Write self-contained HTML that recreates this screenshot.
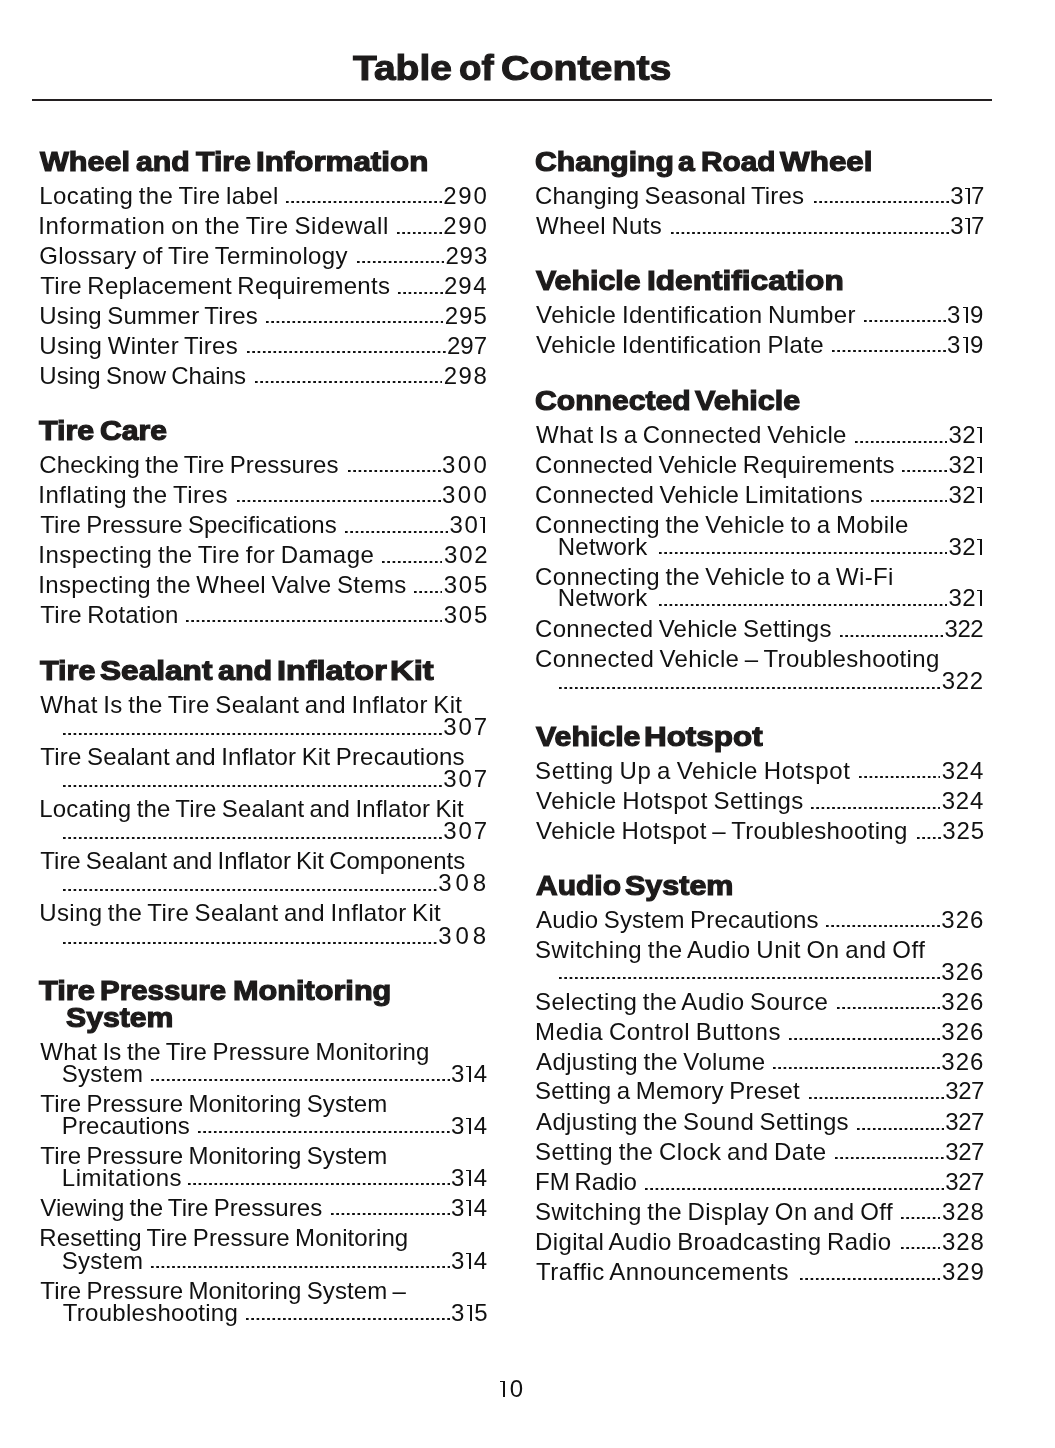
<!DOCTYPE html>
<html><head><meta charset="utf-8"><style>
html,body{margin:0;padding:0;background:#fff}
body{width:1055px;height:1448px;position:relative;overflow:hidden;will-change:transform;color:#111111;font-family:"Liberation Sans",sans-serif}
.t{position:absolute;font-size:24px;line-height:30px;white-space:pre}
.h{position:absolute;font-size:28px;line-height:34px;font-weight:bold;white-space:pre;transform-origin:0 0;color:#1d1b1b;-webkit-text-stroke:1.2px #1d1b1b}
.ti{position:absolute;font-size:35px;line-height:42px;font-weight:bold;white-space:pre;transform-origin:0 0;color:#1d1b1b;-webkit-text-stroke:1.1px #1d1b1b}
.d{position:absolute;height:2.4px;background-image:linear-gradient(to right,#111111 2.3px,transparent 2.3px);background-size:5.3px 2.4px;background-repeat:repeat-x}
.one{position:absolute;width:5.0px;height:16.5px}
.one:before{content:"";position:absolute;right:0;top:0;width:2.0px;height:100%;background:#111111}
.one:after{content:"";position:absolute;left:0;top:0;width:100%;height:1.8px;background:#111111}
.dg{transform:scaleX(1.0);transform-origin:0 0}
.rule{position:absolute;left:31.5px;top:98.9px;width:960.5px;height:1.7px;background:#231f20}
</style></head><body>
<div class="ti" style="left:352.89px;top:46.90px;transform:scaleX(1.1140)">Table</div>
<div class="ti" style="left:458.88px;top:46.90px;transform:scaleX(1.0476)">of</div>
<div class="ti" style="left:500.96px;top:46.90px;transform:scaleX(1.1234)">Contents</div>
<div class="rule"></div>
<div class="h" style="left:40.40px;top:145.10px;transform:scaleX(1.0919)">Wheel</div>
<div class="h" style="left:135.89px;top:145.10px;transform:scaleX(1.0794)">and</div>
<div class="h" style="left:195.73px;top:145.10px;transform:scaleX(1.0808)">Tire</div>
<div class="h" style="left:256.36px;top:145.10px;transform:scaleX(1.1188)">Information</div>
<div class="t" style="left:39.30px;top:180.85px;letter-spacing:0.399px;word-spacing:-1.5px">Locating the Tire label</div>
<div class="t dg" style="left:443.29px;top:180.85px">2</div>
<div class="t dg" style="left:458.21px;top:180.85px">9</div>
<div class="t dg" style="left:473.39px;top:180.85px">0</div>
<div class="d" style="left:286.10px;top:201.40px;width:156.00px"></div>
<div class="t" style="left:38.30px;top:210.95px;letter-spacing:0.639px;word-spacing:-1.5px">Information on the Tire Sidewall</div>
<div class="t dg" style="left:443.29px;top:210.95px">2</div>
<div class="t dg" style="left:458.21px;top:210.95px">9</div>
<div class="t dg" style="left:473.39px;top:210.95px">0</div>
<div class="d" style="left:397.40px;top:231.50px;width:44.70px"></div>
<div class="t" style="left:39.30px;top:240.55px;letter-spacing:0.332px;word-spacing:-1.5px">Glossary of Tire Terminology</div>
<div class="t dg" style="left:445.49px;top:240.55px">2</div>
<div class="t dg" style="left:459.56px;top:240.55px">9</div>
<div class="t dg" style="left:473.91px;top:240.55px">3</div>
<div class="d" style="left:357.20px;top:261.10px;width:87.10px"></div>
<div class="t" style="left:40.30px;top:271.05px;letter-spacing:0.286px;word-spacing:-1.5px">Tire Replacement Requirements</div>
<div class="t dg" style="left:443.99px;top:271.05px">2</div>
<div class="t dg" style="left:458.25px;top:271.05px">9</div>
<div class="t dg" style="left:473.16px;top:271.05px">4</div>
<div class="d" style="left:398.10px;top:291.60px;width:44.70px"></div>
<div class="t" style="left:39.30px;top:300.75px;letter-spacing:0.240px;word-spacing:-1.5px">Using Summer Tires</div>
<div class="t dg" style="left:444.69px;top:300.75px">2</div>
<div class="t dg" style="left:458.96px;top:300.75px">9</div>
<div class="t dg" style="left:473.46px;top:300.75px">5</div>
<div class="d" style="left:266.30px;top:321.30px;width:177.20px"></div>
<div class="t" style="left:39.30px;top:330.75px;letter-spacing:0.319px;word-spacing:-1.5px">Using Winter Tires</div>
<div class="t dg" style="left:446.89px;top:330.75px">2</div>
<div class="t dg" style="left:460.29px;top:330.75px">9</div>
<div class="t dg" style="left:473.66px;top:330.75px">7</div>
<div class="d" style="left:247.30px;top:351.30px;width:198.40px"></div>
<div class="t" style="left:39.30px;top:360.85px;letter-spacing:0.016px;word-spacing:-1.5px">Using Snow Chains</div>
<div class="t dg" style="left:443.69px;top:360.85px">2</div>
<div class="t dg" style="left:458.52px;top:360.85px">9</div>
<div class="t dg" style="left:473.50px;top:360.85px">8</div>
<div class="d" style="left:254.70px;top:381.40px;width:187.80px"></div>
<div class="h" style="left:39.13px;top:414.10px;transform:scaleX(1.0869)">Tire</div>
<div class="h" style="left:99.75px;top:414.10px;transform:scaleX(1.0783)">Care</div>
<div class="t" style="left:39.30px;top:449.55px;letter-spacing:0.085px;word-spacing:-1.5px">Checking the Tire Pressures</div>
<div class="t dg" style="left:442.09px;top:449.55px">3</div>
<div class="t dg" style="left:457.73px;top:449.55px">0</div>
<div class="t dg" style="left:473.49px;top:449.55px">0</div>
<div class="d" style="left:348.20px;top:470.10px;width:92.40px"></div>
<div class="t" style="left:38.30px;top:479.85px;letter-spacing:0.522px;word-spacing:-1.5px">Inflating the Tires</div>
<div class="t dg" style="left:442.09px;top:479.85px">3</div>
<div class="t dg" style="left:457.73px;top:479.85px">0</div>
<div class="t dg" style="left:473.49px;top:479.85px">0</div>
<div class="d" style="left:236.90px;top:500.40px;width:203.70px"></div>
<div class="t" style="left:40.30px;top:509.95px;letter-spacing:0.056px;word-spacing:-1.5px">Tire Pressure Specifications</div>
<div class="t dg" style="left:449.59px;top:509.95px">3</div>
<div class="t dg" style="left:464.42px;top:509.95px">0</div>
<div class="one" style="left:480.00px;top:516.50px"></div>
<div class="d" style="left:345.10px;top:530.50px;width:103.00px"></div>
<div class="t" style="left:38.30px;top:540.15px;letter-spacing:0.460px;word-spacing:-1.5px">Inspecting the Tire for Damage</div>
<div class="t dg" style="left:443.99px;top:540.15px">3</div>
<div class="t dg" style="left:459.15px;top:540.15px">0</div>
<div class="t dg" style="left:474.16px;top:540.15px">2</div>
<div class="d" style="left:381.90px;top:560.70px;width:60.60px"></div>
<div class="t" style="left:38.30px;top:569.95px;letter-spacing:0.328px;word-spacing:-1.5px">Inspecting the Wheel Valve Stems</div>
<div class="t dg" style="left:443.79px;top:569.95px">3</div>
<div class="t dg" style="left:458.83px;top:569.95px">0</div>
<div class="t dg" style="left:473.96px;top:569.95px">5</div>
<div class="d" style="left:413.50px;top:590.50px;width:28.80px"></div>
<div class="t" style="left:40.30px;top:599.75px;letter-spacing:0.262px;word-spacing:-1.5px">Tire Rotation</div>
<div class="t dg" style="left:443.79px;top:599.75px">3</div>
<div class="t dg" style="left:458.83px;top:599.75px">0</div>
<div class="t dg" style="left:473.96px;top:599.75px">5</div>
<div class="d" style="left:185.60px;top:620.30px;width:256.70px"></div>
<div class="h" style="left:39.73px;top:654.10px;transform:scaleX(1.0889)">Tire</div>
<div class="h" style="left:99.85px;top:654.10px;transform:scaleX(1.1289)">Sealant</div>
<div class="h" style="left:218.18px;top:654.10px;transform:scaleX(1.0878)">and</div>
<div class="h" style="left:277.09px;top:654.10px;transform:scaleX(1.1568)">Inflator</div>
<div class="h" style="left:390.46px;top:654.10px;transform:scaleX(1.1686)">Kit</div>
<div class="t" style="left:40.30px;top:690.05px;letter-spacing:0.367px;word-spacing:-1.5px">What Is the Tire Sealant and Inflator Kit</div>
<div class="t dg" style="left:443.19px;top:712.15px">3</div>
<div class="t dg" style="left:458.61px;top:712.15px">0</div>
<div class="t dg" style="left:473.86px;top:712.15px">7</div>
<div class="d" style="left:63.10px;top:732.70px;width:378.60px;background-size:5.3000px 2.4px"></div>
<div class="t" style="left:40.30px;top:741.85px;letter-spacing:0.209px;word-spacing:-1.5px">Tire Sealant and Inflator Kit Precautions</div>
<div class="t dg" style="left:443.19px;top:763.95px">3</div>
<div class="t dg" style="left:458.61px;top:763.95px">0</div>
<div class="t dg" style="left:473.86px;top:763.95px">7</div>
<div class="d" style="left:63.10px;top:784.50px;width:378.60px;background-size:5.3000px 2.4px"></div>
<div class="t" style="left:39.30px;top:793.95px;letter-spacing:0.158px;word-spacing:-1.5px">Locating the Tire Sealant and Inflator Kit</div>
<div class="t dg" style="left:443.19px;top:816.15px">3</div>
<div class="t dg" style="left:458.61px;top:816.15px">0</div>
<div class="t dg" style="left:473.86px;top:816.15px">7</div>
<div class="d" style="left:63.10px;top:836.70px;width:378.60px;background-size:5.3000px 2.4px"></div>
<div class="t" style="left:40.30px;top:845.85px;letter-spacing:-0.007px;word-spacing:-1.5px">Tire Sealant and Inflator Kit Components</div>
<div class="t dg" style="left:438.19px;top:868.05px">3</div>
<div class="t dg" style="left:455.43px;top:868.05px">0</div>
<div class="t dg" style="left:472.70px;top:868.05px">8</div>
<div class="d" style="left:63.10px;top:888.60px;width:373.60px;background-size:5.3043px 2.4px"></div>
<div class="t" style="left:39.30px;top:897.65px;letter-spacing:0.339px;word-spacing:-1.5px">Using the Tire Sealant and Inflator Kit</div>
<div class="t dg" style="left:438.19px;top:920.95px">3</div>
<div class="t dg" style="left:455.43px;top:920.95px">0</div>
<div class="t dg" style="left:472.70px;top:920.95px">8</div>
<div class="d" style="left:63.10px;top:941.50px;width:373.60px;background-size:5.3043px 2.4px"></div>
<div class="h" style="left:39.32px;top:974.10px;transform:scaleX(1.1010)">Tire</div>
<div class="h" style="left:100.19px;top:974.10px;transform:scaleX(1.0530)">Pressure</div>
<div class="h" style="left:233.31px;top:974.10px;transform:scaleX(1.0948)">Monitoring</div>
<div class="h" style="left:66.49px;top:1000.90px;transform:scaleX(1.0784)">System</div>
<div class="t" style="left:40.30px;top:1036.75px;letter-spacing:0.201px;word-spacing:-1.5px">What Is the Tire Pressure Monitoring</div>
<div class="t" style="left:61.80px;top:1058.85px;letter-spacing:0.255px;word-spacing:-1.5px">System</div>
<div class="t dg" style="left:451.09px;top:1058.85px">3</div>
<div class="one" style="left:466.00px;top:1065.50px"></div>
<div class="t dg" style="left:473.86px;top:1058.85px">4</div>
<div class="d" style="left:150.50px;top:1079.40px;width:299.10px"></div>
<div class="t" style="left:40.30px;top:1088.55px;letter-spacing:0.095px;word-spacing:-1.5px">Tire Pressure Monitoring System</div>
<div class="t" style="left:61.80px;top:1110.65px;letter-spacing:0.116px;word-spacing:-1.5px">Precautions</div>
<div class="t dg" style="left:451.09px;top:1110.65px">3</div>
<div class="one" style="left:466.00px;top:1117.50px"></div>
<div class="t dg" style="left:473.86px;top:1110.65px">4</div>
<div class="d" style="left:198.20px;top:1131.20px;width:251.40px"></div>
<div class="t" style="left:40.30px;top:1140.75px;letter-spacing:0.095px;word-spacing:-1.5px">Tire Pressure Monitoring System</div>
<div class="t" style="left:61.80px;top:1162.65px;letter-spacing:0.509px;word-spacing:-1.5px">Limitations</div>
<div class="t dg" style="left:451.09px;top:1162.65px">3</div>
<div class="one" style="left:466.00px;top:1169.50px"></div>
<div class="t dg" style="left:473.86px;top:1162.65px">4</div>
<div class="d" style="left:187.60px;top:1183.20px;width:262.00px"></div>
<div class="t" style="left:40.30px;top:1192.75px;letter-spacing:0.054px;word-spacing:-1.5px">Viewing the Tire Pressures</div>
<div class="t dg" style="left:451.09px;top:1192.75px">3</div>
<div class="one" style="left:466.00px;top:1199.50px"></div>
<div class="t dg" style="left:473.86px;top:1192.75px">4</div>
<div class="d" style="left:330.70px;top:1213.30px;width:118.90px"></div>
<div class="t" style="left:39.30px;top:1222.75px;letter-spacing:0.119px;word-spacing:-1.5px">Resetting Tire Pressure Monitoring</div>
<div class="t" style="left:61.80px;top:1245.85px;letter-spacing:0.255px;word-spacing:-1.5px">System</div>
<div class="t dg" style="left:451.09px;top:1245.85px">3</div>
<div class="one" style="left:466.00px;top:1252.50px"></div>
<div class="t dg" style="left:473.86px;top:1245.85px">4</div>
<div class="d" style="left:150.50px;top:1266.40px;width:299.10px"></div>
<div class="t" style="left:40.30px;top:1275.85px;letter-spacing:0.096px;word-spacing:-1.5px">Tire Pressure Monitoring System –</div>
<div class="t" style="left:62.80px;top:1297.85px;letter-spacing:0.273px;word-spacing:-1.5px">Troubleshooting</div>
<div class="t dg" style="left:451.09px;top:1297.85px">3</div>
<div class="one" style="left:467.00px;top:1304.50px"></div>
<div class="t dg" style="left:474.16px;top:1297.85px">5</div>
<div class="d" style="left:245.90px;top:1318.40px;width:203.70px"></div>
<div class="h" style="left:535.26px;top:145.20px;transform:scaleX(1.0754)">Changing</div>
<div class="h" style="left:678.40px;top:145.20px;transform:scaleX(1.0733)">a</div>
<div class="h" style="left:700.97px;top:145.20px;transform:scaleX(1.0636)">Road</div>
<div class="h" style="left:780.10px;top:145.20px;transform:scaleX(1.1230)">Wheel</div>
<div class="t" style="left:535.10px;top:180.85px;letter-spacing:0.172px;word-spacing:-1.5px">Changing Seasonal Tires</div>
<div class="t dg" style="left:950.19px;top:180.85px">3</div>
<div class="one" style="left:965.00px;top:187.50px"></div>
<div class="t dg" style="left:971.06px;top:180.85px">7</div>
<div class="d" style="left:813.90px;top:201.40px;width:134.80px"></div>
<div class="t" style="left:536.10px;top:210.95px;letter-spacing:0.351px;word-spacing:-1.5px">Wheel Nuts</div>
<div class="t dg" style="left:950.19px;top:210.95px">3</div>
<div class="one" style="left:965.00px;top:217.50px"></div>
<div class="t dg" style="left:971.06px;top:210.95px">7</div>
<div class="d" style="left:670.80px;top:231.50px;width:277.90px"></div>
<div class="h" style="left:535.93px;top:263.70px;transform:scaleX(1.0835)">Vehicle</div>
<div class="h" style="left:646.64px;top:263.70px;transform:scaleX(1.1290)">Identification</div>
<div class="t" style="left:536.10px;top:299.85px;letter-spacing:0.413px;word-spacing:-1.5px">Vehicle Identification Number</div>
<div class="t dg" style="left:947.09px;top:299.85px">3</div>
<div class="one" style="left:963.00px;top:306.50px"></div>
<div class="t dg" style="left:969.99px;top:299.85px">9</div>
<div class="d" style="left:863.80px;top:320.40px;width:81.80px"></div>
<div class="t" style="left:536.10px;top:329.85px;letter-spacing:0.384px;word-spacing:-1.5px">Vehicle Identification Plate</div>
<div class="t dg" style="left:947.09px;top:329.85px">3</div>
<div class="one" style="left:963.00px;top:336.50px"></div>
<div class="t dg" style="left:969.99px;top:329.85px">9</div>
<div class="d" style="left:832.00px;top:350.40px;width:113.60px"></div>
<div class="h" style="left:535.06px;top:383.90px;transform:scaleX(1.0756)">Connected</div>
<div class="h" style="left:695.43px;top:383.90px;transform:scaleX(1.0908)">Vehicle</div>
<div class="t" style="left:536.10px;top:419.95px;letter-spacing:0.314px;word-spacing:-1.5px">What Is a Connected Vehicle</div>
<div class="t dg" style="left:948.49px;top:419.95px">3</div>
<div class="t dg" style="left:962.17px;top:419.95px">2</div>
<div class="one" style="left:977.00px;top:426.50px"></div>
<div class="d" style="left:854.60px;top:440.50px;width:92.40px"></div>
<div class="t" style="left:535.10px;top:449.85px;letter-spacing:0.217px;word-spacing:-1.5px">Connected Vehicle Requirements</div>
<div class="t dg" style="left:948.49px;top:449.85px">3</div>
<div class="t dg" style="left:962.17px;top:449.85px">2</div>
<div class="one" style="left:977.00px;top:456.50px"></div>
<div class="d" style="left:902.30px;top:470.40px;width:44.70px"></div>
<div class="t" style="left:535.10px;top:479.85px;letter-spacing:0.324px;word-spacing:-1.5px">Connected Vehicle Limitations</div>
<div class="t dg" style="left:948.49px;top:479.85px">3</div>
<div class="t dg" style="left:962.17px;top:479.85px">2</div>
<div class="one" style="left:977.00px;top:486.50px"></div>
<div class="d" style="left:870.50px;top:500.40px;width:76.50px"></div>
<div class="t" style="left:535.10px;top:509.85px;letter-spacing:0.339px;word-spacing:-1.5px">Connecting the Vehicle to a Mobile</div>
<div class="t" style="left:557.80px;top:531.65px;letter-spacing:0.230px;word-spacing:-1.5px">Network</div>
<div class="t dg" style="left:948.49px;top:531.65px">3</div>
<div class="t dg" style="left:962.17px;top:531.65px">2</div>
<div class="one" style="left:977.00px;top:538.50px"></div>
<div class="d" style="left:658.50px;top:552.20px;width:288.50px"></div>
<div class="t" style="left:535.10px;top:561.65px;letter-spacing:0.343px;word-spacing:-1.5px">Connecting the Vehicle to a Wi-Fi</div>
<div class="t" style="left:557.80px;top:583.25px;letter-spacing:0.230px;word-spacing:-1.5px">Network</div>
<div class="t dg" style="left:948.49px;top:583.25px">3</div>
<div class="t dg" style="left:962.17px;top:583.25px">2</div>
<div class="one" style="left:977.00px;top:589.50px"></div>
<div class="d" style="left:658.50px;top:603.80px;width:288.50px"></div>
<div class="t" style="left:535.10px;top:614.05px;letter-spacing:0.231px;word-spacing:-1.5px">Connected Vehicle Settings</div>
<div class="t dg" style="left:944.59px;top:614.05px">3</div>
<div class="t dg" style="left:957.50px;top:614.05px">2</div>
<div class="t dg" style="left:970.26px;top:614.05px">2</div>
<div class="d" style="left:840.10px;top:634.60px;width:103.00px"></div>
<div class="t" style="left:535.10px;top:643.85px;letter-spacing:0.326px;word-spacing:-1.5px">Connected Vehicle – Troubleshooting</div>
<div class="t dg" style="left:941.69px;top:666.15px">3</div>
<div class="t dg" style="left:955.80px;top:666.15px">2</div>
<div class="t dg" style="left:969.76px;top:666.15px">2</div>
<div class="d" style="left:559.10px;top:686.70px;width:381.10px;background-size:5.3352px 2.4px"></div>
<div class="h" style="left:536.23px;top:719.90px;transform:scaleX(1.0824)">Vehicle</div>
<div class="h" style="left:644.46px;top:719.90px;transform:scaleX(1.1217)">Hotspot</div>
<div class="t" style="left:535.10px;top:755.55px;letter-spacing:0.565px;word-spacing:-1.5px">Setting Up a Vehicle Hotspot</div>
<div class="t dg" style="left:941.79px;top:755.55px">3</div>
<div class="t dg" style="left:955.67px;top:755.55px">2</div>
<div class="t dg" style="left:970.06px;top:755.55px">4</div>
<div class="d" style="left:858.50px;top:776.10px;width:81.80px"></div>
<div class="t" style="left:536.10px;top:785.95px;letter-spacing:0.437px;word-spacing:-1.5px">Vehicle Hotspot Settings</div>
<div class="t dg" style="left:941.79px;top:785.95px">3</div>
<div class="t dg" style="left:955.67px;top:785.95px">2</div>
<div class="t dg" style="left:970.06px;top:785.95px">4</div>
<div class="d" style="left:810.80px;top:806.50px;width:129.50px"></div>
<div class="t" style="left:536.10px;top:815.95px;letter-spacing:0.362px;word-spacing:-1.5px">Vehicle Hotspot – Troubleshooting</div>
<div class="t dg" style="left:942.29px;top:815.95px">3</div>
<div class="t dg" style="left:956.43px;top:815.95px">2</div>
<div class="t dg" style="left:970.66px;top:815.95px">5</div>
<div class="d" style="left:917.30px;top:836.50px;width:23.50px"></div>
<div class="h" style="left:535.60px;top:869.30px;transform:scaleX(1.0723)">Audio</div>
<div class="h" style="left:625.28px;top:869.30px;transform:scaleX(1.0887)">System</div>
<div class="t" style="left:536.10px;top:904.85px;letter-spacing:0.175px;word-spacing:-1.5px">Audio System Precautions</div>
<div class="t dg" style="left:941.29px;top:904.85px">3</div>
<div class="t dg" style="left:955.78px;top:904.85px">2</div>
<div class="t dg" style="left:970.11px;top:904.85px">6</div>
<div class="d" style="left:826.20px;top:925.40px;width:113.60px"></div>
<div class="t" style="left:535.10px;top:934.85px;letter-spacing:0.479px;word-spacing:-1.5px">Switching the Audio Unit On and Off</div>
<div class="t dg" style="left:941.29px;top:956.85px">3</div>
<div class="t dg" style="left:955.78px;top:956.85px">2</div>
<div class="t dg" style="left:970.11px;top:956.85px">6</div>
<div class="d" style="left:559.10px;top:977.40px;width:380.70px;background-size:5.3296px 2.4px"></div>
<div class="t" style="left:535.10px;top:986.55px;letter-spacing:0.365px;word-spacing:-1.5px">Selecting the Audio Source</div>
<div class="t dg" style="left:941.29px;top:986.55px">3</div>
<div class="t dg" style="left:955.78px;top:986.55px">2</div>
<div class="t dg" style="left:970.11px;top:986.55px">6</div>
<div class="d" style="left:836.80px;top:1007.10px;width:103.00px"></div>
<div class="t" style="left:535.10px;top:1016.95px;letter-spacing:0.542px;word-spacing:-1.5px">Media Control Buttons</div>
<div class="t dg" style="left:941.29px;top:1016.95px">3</div>
<div class="t dg" style="left:955.78px;top:1016.95px">2</div>
<div class="t dg" style="left:970.11px;top:1016.95px">6</div>
<div class="d" style="left:789.10px;top:1037.50px;width:150.70px"></div>
<div class="t" style="left:536.10px;top:1046.75px;letter-spacing:0.346px;word-spacing:-1.5px">Adjusting the Volume</div>
<div class="t dg" style="left:941.29px;top:1046.75px">3</div>
<div class="t dg" style="left:955.78px;top:1046.75px">2</div>
<div class="t dg" style="left:970.11px;top:1046.75px">6</div>
<div class="d" style="left:773.20px;top:1067.30px;width:166.60px"></div>
<div class="t" style="left:535.10px;top:1076.35px;letter-spacing:0.230px;word-spacing:-1.5px">Setting a Memory Preset</div>
<div class="t dg" style="left:945.19px;top:1076.35px">3</div>
<div class="t dg" style="left:958.21px;top:1076.35px">2</div>
<div class="t dg" style="left:971.06px;top:1076.35px">7</div>
<div class="d" style="left:808.90px;top:1096.90px;width:134.80px"></div>
<div class="t" style="left:536.10px;top:1107.05px;letter-spacing:0.325px;word-spacing:-1.5px">Adjusting the Sound Settings</div>
<div class="t dg" style="left:945.19px;top:1107.05px">3</div>
<div class="t dg" style="left:958.21px;top:1107.05px">2</div>
<div class="t dg" style="left:971.06px;top:1107.05px">7</div>
<div class="d" style="left:856.60px;top:1127.60px;width:87.10px"></div>
<div class="t" style="left:535.10px;top:1136.65px;letter-spacing:0.462px;word-spacing:-1.5px">Setting the Clock and Date</div>
<div class="t dg" style="left:945.19px;top:1136.65px">3</div>
<div class="t dg" style="left:958.21px;top:1136.65px">2</div>
<div class="t dg" style="left:971.06px;top:1136.65px">7</div>
<div class="d" style="left:835.40px;top:1157.20px;width:108.30px"></div>
<div class="t" style="left:535.10px;top:1167.05px;letter-spacing:-0.126px;word-spacing:-1.5px">FM Radio</div>
<div class="t dg" style="left:945.19px;top:1167.05px">3</div>
<div class="t dg" style="left:958.21px;top:1167.05px">2</div>
<div class="t dg" style="left:971.06px;top:1167.05px">7</div>
<div class="d" style="left:644.60px;top:1187.60px;width:299.10px"></div>
<div class="t" style="left:535.10px;top:1196.65px;letter-spacing:0.430px;word-spacing:-1.5px">Switching the Display On and Off</div>
<div class="t dg" style="left:941.89px;top:1196.65px">3</div>
<div class="t dg" style="left:956.18px;top:1196.65px">2</div>
<div class="t dg" style="left:970.50px;top:1196.65px">8</div>
<div class="d" style="left:901.00px;top:1217.20px;width:39.40px"></div>
<div class="t" style="left:535.10px;top:1226.75px;letter-spacing:0.354px;word-spacing:-1.5px">Digital Audio Broadcasting Radio</div>
<div class="t dg" style="left:941.89px;top:1226.75px">3</div>
<div class="t dg" style="left:956.18px;top:1226.75px">2</div>
<div class="t dg" style="left:970.50px;top:1226.75px">8</div>
<div class="d" style="left:901.00px;top:1247.30px;width:39.40px"></div>
<div class="t" style="left:536.10px;top:1257.05px;letter-spacing:0.487px;word-spacing:-1.5px">Traffic Announcements</div>
<div class="t dg" style="left:941.89px;top:1257.05px">3</div>
<div class="t dg" style="left:956.27px;top:1257.05px">2</div>
<div class="t dg" style="left:970.59px;top:1257.05px">9</div>
<div class="d" style="left:800.30px;top:1277.60px;width:140.10px"></div>
<div class="one" style="left:500.00px;top:1380.50px"></div>
<div class="t dg" style="left:509.69px;top:1373.75px">0</div>
</body></html>
